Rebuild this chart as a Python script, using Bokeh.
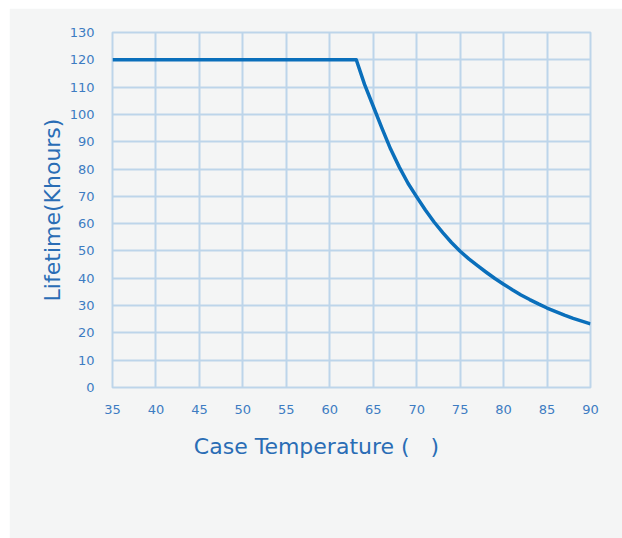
from bokeh.plotting import figure
from bokeh.models import Range1d, FixedTicker
from bokeh.embed import file_html
from bokeh.resources import INLINE

# Data
temperature = [35, 63.05, 64, 65, 66, 67, 68, 69, 70, 71, 72, 73, 74, 75, 76, 77, 78, 79,
               80, 81, 82, 83, 84, 85, 86, 87, 88, 89, 90]
lifetime = [120, 120, 111, 103, 95, 87.3, 80.7, 74.8, 69.8, 65.0, 60.6, 56.7, 53.1, 49.9, 47.1,
            44.6, 42.2, 39.9, 37.8, 35.8, 33.9, 32.2, 30.6, 29.1, 27.8, 26.5, 25.3, 24.3, 23.3]
x_ticks = [35, 40, 45, 50, 55, 60, 65, 70, 75, 80, 85, 90]
y_ticks = [0, 10, 20, 30, 40, 50, 60, 70, 80, 90, 100, 110, 120, 130]
x_title = "Case Temperature (\u00a0\u00a0\u00a0)"
y_title = "Lifetime(Khours)"

BG = "#f4f5f5"
GRID = "#bdd5ea"
LINE = "#0a6fbb"
TICK_TXT = "#3d7cc2"
TITLE_TXT = "#2a6db5"

p = figure(width=613, height=530, output_backend="svg", toolbar_location=None,
           x_range=Range1d(35, 90), y_range=Range1d(0, 130),
           background_fill_color=BG, border_fill_color=BG,
           min_border_left=103, min_border_right=32, min_border_top=24, min_border_bottom=151)
p.margin = (8, 0, 0, 9)

p.outline_line_color = GRID
p.outline_line_width = 2

for ax, ticks in ((p.xaxis[0], x_ticks), (p.yaxis[0], y_ticks)):
    ax.ticker = FixedTicker(ticks=ticks)
    ax.axis_line_color = None
    ax.major_tick_line_color = None
    ax.minor_tick_line_color = None
    ax.major_label_text_color = TICK_TXT
    ax.major_label_text_font = "DejaVu Sans"
    ax.major_label_text_font_size = "13px"
    ax.axis_label_text_color = TITLE_TXT
    ax.axis_label_text_font = "DejaVu Sans"
    ax.axis_label_text_font_size = "22px"
    ax.axis_label_text_font_style = "normal"
p.xaxis.major_label_standoff = 11
p.yaxis.major_label_standoff = 12
p.xaxis.axis_label = x_title + "\u00a0" * 10
p.yaxis.axis_label = y_title
p.xaxis.axis_label_standoff = 17
p.yaxis.axis_label_standoff = 2

p.xgrid.ticker = FixedTicker(ticks=x_ticks)
p.ygrid.ticker = FixedTicker(ticks=y_ticks)
for g in (p.xgrid[0], p.ygrid[0]):
    g.grid_line_color = GRID
    g.grid_line_width = 2
    g.grid_line_alpha = 1

p.line(temperature, lifetime, line_color=LINE, line_width=3.5, line_join="round")

open("out.html", "w").write(file_html(p, INLINE))
